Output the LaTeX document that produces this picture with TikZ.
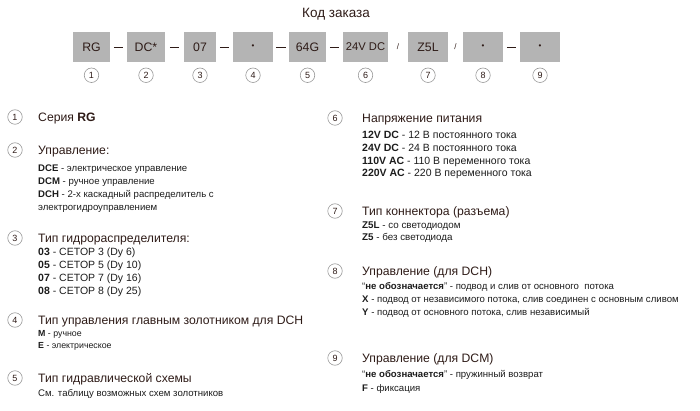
\documentclass[tikz,border=0pt]{standalone}
\usepackage{fontspec}
\setmainfont{Liberation Sans}
\usetikzlibrary{positioning}
\definecolor{boxgray}{HTML}{B4B4B4}
\definecolor{ringgray}{HTML}{999999}
\definecolor{headbrown}{HTML}{2E1B17}
\definecolor{itemblack}{HTML}{1C1C1C}
\tikzset{
	codebox/.style={rectangle,fill=boxgray,minimum height=30pt,inner sep=0pt,text=headbrown,font=\fontsize{12.3}{14}\selectfont},
	numring/.style={circle,draw=ringgray,line width=0.6pt,minimum size=14.5pt,inner sep=0pt,text=headbrown,font=\fontsize{9}{10}\selectfont},
	sepmark/.style={text=headbrown,inner sep=0pt,font=\fontsize{8}{9}\selectfont},
	heading/.style={anchor=base west,inner sep=0pt,text=headbrown,font=\fontsize{12.2}{14}\selectfont},
	items/.style={anchor=base west,inner sep=0pt,align=left,text=itemblack,font=\fontsize{9.6}{13}\selectfont}
}
\newcommand{\dashsep}{\rule{9.5pt}{0.8pt}}

\begin{document}
\begin{tikzpicture}[x=1pt,y=-1pt]
	\useasboundingbox (0,0) rectangle (700,411);
	
	\node[text=headbrown,font=\fontsize{13.5}{15}\selectfont] (title) at (336,14) {Код заказа};
	
	% order code
	\node[codebox,minimum width=37pt] (b1) at (91.5,47) {RG};
	\node[codebox,minimum width=38pt] (b2) at (146,47) {DC*};
	\node[codebox,minimum width=32pt] (b3) at (200,47) {07};
	\node[codebox,minimum width=40pt] (b4) at (253,47) {\fontsize{8}{9}\selectfont •};
	\node[codebox,minimum width=37pt] (b5) at (307.5,47) {64G};
	\node[codebox,minimum width=45pt,font=\fontsize{11.2}{13}\selectfont] (b6) at (365.5,47) {24V DC};
	\node[codebox,minimum width=40pt] (b7) at (428,47) {Z5L};
	\node[codebox,minimum width=40pt] (b8) at (483,47) {\fontsize{8}{9}\selectfont •};
	\node[codebox,minimum width=40pt] (b9) at (540,47) {\fontsize{8}{9}\selectfont •};
	
	\path (b1) -- node[sepmark] {\dashsep} (b2);
	\path (b2) -- node[sepmark] {\dashsep} (b3);
	\path (b3) -- node[sepmark] {\dashsep} (b4);
	\path (b4) -- node[sepmark] {\dashsep} (b5);
	\path (b5) -- node[sepmark] {\dashsep} (b6);
	\path (b6) -- node[sepmark] {/} (b7);
	\path (b7) -- node[sepmark] {/} (b8);
	\path (b8) -- node[sepmark] {\dashsep} (b9);
	
	\foreach \i in {1,...,9}
		\node[numring,below=5.5pt of b\i] (n\i) {\i};
	
	% left column
	\node[numring] (c1) at (15,117) {1};
	\node[heading] (h1) at (38,121.4) {Серия \textbf{RG}};
	
	\node[numring] (c2) at (15,150) {2};
	\node[heading] (h2) at (38,154.4) {Управление:};
	\node[items] (t2) at (38,210.5) {\textbf{DCE} - электрическое управление\\
		\textbf{DCM} - ручное управление\\
		\textbf{DCH} - 2-х каскадный распределитель с\\
		электрогидроуправлением};
	
	\node[numring] (c3) at (15,238) {3};
	\node[heading] (h3) at (38,242.4) {Тип гидрораспределителя:};
	\node[items,font=\fontsize{10.5}{13}\selectfont] (t3) at (38,294.7) {\textbf{03} - CETOP 3 (Dy 6)\\
		\textbf{05} - CETOP 5 (Dy 10)\\
		\textbf{07} - CETOP 7 (Dy 16)\\
		\textbf{08} - CETOP 8 (Dy 25)};
	
	\node[numring] (c4) at (15,320) {4};
	\node[heading] (h4) at (38,324.4) {Тип управления главным золотником для DCH};
	\node[items,font=\fontsize{8.8}{12.5}\selectfont] (t4) at (38,348.7) {\textbf{M} - ручное\\
		\textbf{E} - электрическое};
	
	\node[numring] (c5) at (15,378) {5};
	\node[heading] (h5) at (38,382.4) {Тип гидравлической схемы};
	\node[items] (t5) at (38,396.5) {См. таблицу возможных схем золотников};
	
	% right column
	\node[numring] (c6) at (335,118) {6};
	\node[heading] (h6) at (362,122.4) {Напряжение питания};
	\node[items,font=\fontsize{10.5}{12.7}\selectfont] (t6) at (362,176.9) {\textbf{12V DC} - 12 В постоянного тока\\
		\textbf{24V DC} - 24 В постоянного тока\\
		\textbf{110V AC} - 110 В переменного тока\\
		\textbf{220V AC} - 220 В переменного тока};
	
	\node[numring] (c7) at (335,211) {7};
	\node[heading] (h7) at (362,215.4) {Тип коннектора (разъема)};
	\node[items,font=\fontsize{9.8}{12}\selectfont] (t7) at (362,240.5) {\textbf{Z5L} - со светодиодом\\
		\textbf{Z5} - без светодиода};
	
	\node[numring] (c8) at (335,271) {8};
	\node[heading] (h8) at (362,275.4) {Управление (для DCH)};
	\node[items] (t8) at (362,315.5) {“\textbf{не обозначается}” - подвод и слив от основного \ потока\\
		\textbf{X} - подвод от независимого потока, слив соединен с основным сливом\\
		\textbf{Y} - подвод от основного потока, слив независимый};
	
	\node[numring] (c9) at (335,358) {9};
	\node[heading] (h9) at (362,362.4) {Управление (для DCM)};
	\node[items,font=\fontsize{9.6}{14}\selectfont] (t9) at (362,391.5) {“\textbf{не обозначается}” - пружинный возврат\\
		\textbf{F} - фиксация};
\end{tikzpicture}
\end{document}
